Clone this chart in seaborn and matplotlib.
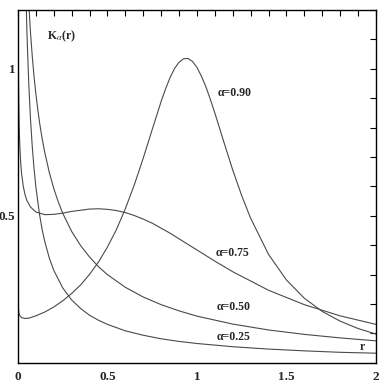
import matplotlib
matplotlib.use("Agg")
import matplotlib.pyplot as plt
import matplotlib.ticker as ticker
import pandas as pd
import seaborn as sns

# values for each curve K_alpha(r)
r_025 = [0.04, 0.05, 0.06, 0.07, 0.08, 0.09, 0.1, 0.12, 0.135, 0.15, 0.175, 0.2, 0.25,
         0.3, 0.35, 0.4, 0.45, 0.5, 0.6, 0.7, 0.8, 0.9, 1.0, 1.2, 1.4, 1.6, 1.8, 2.0]
k_025 = [1.373, 1.125, 0.955, 0.830, 0.735, 0.660, 0.599, 0.507, 0.454, 0.412, 0.357,
         0.315, 0.255, 0.214, 0.185, 0.162, 0.145, 0.131, 0.109, 0.094, 0.082, 0.073,
         0.066, 0.055, 0.047, 0.041, 0.036, 0.033]

r_050 = [0.05, 0.06, 0.07, 0.08, 0.09, 0.1, 0.11, 0.12, 0.135, 0.15, 0.175, 0.2, 0.225,
         0.25, 0.3, 0.35, 0.4, 0.45, 0.5, 0.6, 0.7, 0.8, 0.9, 1.0, 1.2, 1.4, 1.6, 1.8, 2.0]
k_050 = [1.356, 1.226, 1.124, 1.042, 0.973, 0.915, 0.865, 0.820, 0.763, 0.715, 0.648,
         0.593, 0.548, 0.509, 0.447, 0.399, 0.360, 0.327, 0.300, 0.257, 0.224, 0.198,
         0.177, 0.159, 0.132, 0.112, 0.097, 0.085, 0.075]

r_075 = [0.001, 0.0015, 0.002, 0.003, 0.005, 0.007, 0.01, 0.015, 0.02, 0.03, 0.04, 0.05,
         0.07, 0.1, 0.15, 0.2, 0.25, 0.3, 0.35, 0.4, 0.45, 0.5, 0.55, 0.6, 0.65, 0.7,
         0.75, 0.8, 0.85, 0.9, 1.0, 1.1, 1.2, 1.4, 1.6, 1.8, 2.0]
k_075 = [1.276, 1.156, 1.079, 0.979, 0.869, 0.805, 0.744, 0.683, 0.645, 0.599, 0.571,
         0.552, 0.530, 0.513, 0.504, 0.505, 0.509, 0.515, 0.519, 0.523, 0.524, 0.522,
         0.518, 0.511, 0.501, 0.489, 0.475, 0.458, 0.441, 0.422, 0.384, 0.346, 0.310,
         0.247, 0.198, 0.160, 0.131]

r_090 = [0.001, 0.005, 0.01, 0.02, 0.04, 0.06, 0.1, 0.15, 0.2, 0.25, 0.3, 0.35, 0.4, 0.45,
         0.5, 0.55, 0.6, 0.65, 0.7, 0.75, 0.8, 0.825, 0.85, 0.875, 0.9, 0.925, 0.95,
         0.975, 1.0, 1.025, 1.05, 1.075, 1.1, 1.15, 1.2, 1.25, 1.3, 1.4, 1.5, 1.6, 1.7,
         1.8, 1.9, 2.0]
k_090 = [0.197, 0.170, 0.161, 0.154, 0.151, 0.152, 0.160, 0.173, 0.190, 0.211, 0.236,
         0.265, 0.301, 0.343, 0.394, 0.453, 0.524, 0.605, 0.696, 0.793, 0.889, 0.932,
         0.970, 1.001, 1.022, 1.034, 1.035, 1.025, 1.005, 0.975, 0.939, 0.896, 0.850,
         0.752, 0.656, 0.569, 0.492, 0.369, 0.282, 0.220, 0.175, 0.142, 0.117, 0.098]

labels = ["\u03b1=0.25", "\u03b1=0.50", "\u03b1=0.75", "\u03b1=0.90"]

sns.set_theme(style="white")
plt.rcParams["font.family"] = ["Liberation Serif", "DejaVu Serif"]
plt.rcParams["mathtext.fontset"] = "stix"

fig = plt.figure(figsize=(3.82, 3.82), dpi=100)
ax = fig.add_axes([0.047, 0.050, 0.937, 0.924])

curves = [(r_025, k_025), (r_050, k_050), (r_075, k_075), (r_090, k_090)]
for r, k in curves:
    df = pd.DataFrame({"r": r, "K": k})
    sns.lineplot(data=df, x="r", y="K", ax=ax, color="#4a4a4a", lw=0.8,
                 estimator=None, sort=False)

ax.set_xlim(0, 2)
ax.set_ylim(0, 1.2)
ax.set_xlabel("")
ax.set_ylabel("")

ax.xaxis.set_major_locator(ticker.FixedLocator([0, 0.5, 1, 1.5, 2]))
ax.yaxis.set_major_locator(ticker.FixedLocator([0.5, 1]))
ax.xaxis.set_minor_locator(ticker.MultipleLocator(0.1))
ax.yaxis.set_minor_locator(ticker.MultipleLocator(0.1))
ax.xaxis.set_major_formatter(ticker.FormatStrFormatter("%g"))
ax.yaxis.set_major_formatter(ticker.FormatStrFormatter("%g"))
ax.tick_params(which="both", direction="in", top=True, right=True, length=4,
               width=0.8, color="black")
ax.tick_params(axis="x", which="major", labelsize=9.5, pad=6)
ax.tick_params(axis="y", which="major", labelsize=9.5, pad=2)
for t in ax.get_xticklabels() + ax.get_yticklabels():
    t.set_fontweight("bold")
for s in ax.spines.values():
    s.set_color("black")
    s.set_linewidth(1.0)

txt = dict(fontsize=8.5, fontweight="bold", va="center", ha="left")
ax.text(0.162, 1.109, r"K$_{\alpha}$(r)", **txt)
ax.text(1.117, 0.918, labels[3], **txt)
ax.text(1.106, 0.374, labels[2], **txt)
ax.text(1.11, 0.190, labels[1], **txt)
ax.text(1.11, 0.088, labels[0], **txt)
ax.text(1.91, 0.054, "r", **txt)

fig.savefig("out.png", dpi=100)
